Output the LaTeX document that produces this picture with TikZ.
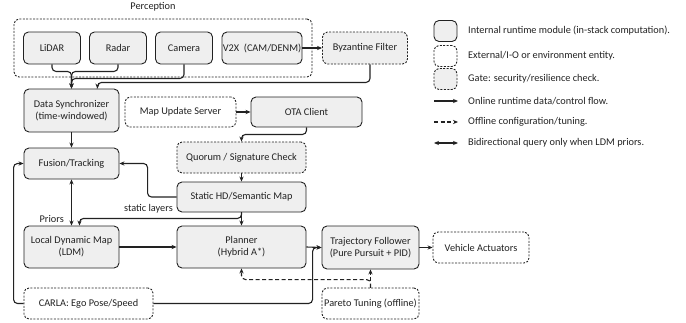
\documentclass[tikz,border=0pt]{standalone}
\usepackage{fontspec}
\setmainfont{Carlito}
\usetikzlibrary{arrows.meta,calc}
\definecolor{boxfill}{HTML}{EFEFEF}
\definecolor{ink}{HTML}{222222}
\begin{document}
\begin{tikzpicture}[x=1pt,y=-1pt,
  font=\fontsize{10.3}{12}\selectfont,
  base/.style={rounded corners=5pt, draw=ink, line width=0.9pt, inner sep=0pt, align=center, text=ink},
  mod/.style={base, fill=boxfill},
  extbox/.style={base, fill=white, dash pattern=on 2pt off 1.4pt},
  gate/.style={base, fill=boxfill, dash pattern=on 2pt off 1.4pt},
  flow/.style={draw=ink, line width=1.1pt, rounded corners=4pt, -{Stealth[length=5pt,width=4.2pt]}},
  offl/.style={flow, dash pattern=on 4pt off 2.5pt},
  bidi/.style={flow, {Stealth[length=5pt,width=4.2pt]}-{Stealth[length=5pt,width=4.2pt]}},
  lbl/.style={text=ink, inner sep=0pt}
]
\useasboundingbox (0,0) rectangle (686,322);
% perception group
\node[extbox, minimum width=298pt, minimum height=58pt] (perc) at (163,48) {};
\node[lbl] (perclbl) at (153,7) {Perception};
\node[mod, minimum width=57pt, minimum height=32pt] (lidar) at (52,48) {LiDAR};
\node[mod, minimum width=57pt, minimum height=32pt] (radar) at (118,48) {Radar};
\node[mod, minimum width=57pt, minimum height=32pt] (camera) at (184,48) {Camera};
\node[mod, minimum width=80pt, minimum height=32pt] (v2x) at (262,48) {V2X\ \ (CAM/DENM)};
\node[gate, minimum width=85pt, minimum height=32pt] (byz) at (365,48) {Byzantine Filter};
% middle
\node[mod, minimum width=95pt, minimum height=43pt] (ds) at (71.5,110.5) {Data Synchronizer\\(time-windowed)};
\node[extbox, minimum width=111pt, minimum height=30pt] (mus) at (180.5,112) {Map Update Server};
\node[mod, minimum width=111pt, minimum height=30pt] (ota) at (306.5,112) {OTA Client};
\node[gate, minimum width=129pt, minimum height=31pt] (quorum) at (241.5,157.5) {Quorum / Signature Check};
\node[mod, minimum width=129pt, minimum height=30pt] (static) at (241.5,197) {Static HD/Semantic Map};
\node[mod, minimum width=95pt, minimum height=31pt] (fusion) at (71.5,163.5) {Fusion/Tracking};
\node[mod, minimum width=95pt, minimum height=42pt] (ldm) at (71.5,247) {Local Dynamic Map\\(LDM)};
\node[mod, minimum width=129pt, minimum height=42pt] (planner) at (241.5,247) {Planner\\(Hybrid A*)};
\node[mod, minimum width=97pt, minimum height=43pt] (traj) at (370.5,247.5) {Trajectory Follower\\(Pure Pursuit + PID)};
\node[extbox, minimum width=96pt, minimum height=31pt] (va) at (481,247.5) {Vehicle Actuators};
\node[extbox, minimum width=129pt, minimum height=31pt] (carla) at (88.5,303.5) {CARLA: Ego Pose/Speed};
\node[extbox, minimum width=97pt, minimum height=31pt] (pareto) at (370.5,303.5) {Pareto Tuning (offline)};
% connectors
\draw[flow] (lidar.south) -- ++(0,7) -| (ds.north);
\draw[flow] (radar.south) -- ++(0,7) -| (ds.north);
\draw[flow] (camera.south) -- ++(0,14) -| (ds.north);
\draw[flow] ([xshift=5pt]byz.south) -- ++(0,18) -| ([xshift=26pt]ds.north);
\draw[flow] (v2x.east) -- (byz.west);
\draw[flow] (mus.east) -- (ota.west);
\draw[flow] (ota.south) -- ++(0,7) -| (quorum.north);
\draw[flow] (quorum.south) -- (static.north);
\draw[flow] (ds.south) -- (fusion.north);
\draw[flow] (static.west) -- ++(-29,0) |- (fusion.east);
\draw[bidi] (fusion.south) -- (ldm.north);
\node[lbl, anchor=east] (priorslbl) at (64,219) {Priors};
\draw[flow] (static.south) -- ++(0,6) -| ([xshift=8pt]ldm.north);
\node[lbl, anchor=east] (staticlbl) at (173,209) {static layers};
\draw[flow] (static.south) -- (planner.north);
\draw[flow] (ldm.east) -- (planner.west);
\draw[flow] (planner.east) -- (traj.west);
\draw[flow] (carla.east) -| ([xshift=-9pt]traj.west) -- (traj.west);
\draw[flow] (carla.west) -- ++(-10,0) |- (fusion.west);
\draw[flow] (traj.east) -- (va.west);
\draw[offl] (pareto.north) -- (traj.south);
\draw[offl] (pareto.north) -- ++(0,-8) -| (planner.south);
% legend
\node[mod, minimum width=23pt, minimum height=21pt] (lg1) at (445.5,31) {};
\node[lbl, anchor=west] (lt1) at (468,31) {Internal runtime module (in-stack computation).};
\node[extbox, minimum width=23pt, minimum height=21pt] (lg2) at (445.5,56) {};
\node[lbl, anchor=west] (lt2) at (468,56) {External/I-O or environment entity.};
\node[gate, minimum width=23pt, minimum height=21pt] (lg3) at (445.5,79) {};
\node[lbl, anchor=west] (lt3) at (468,79) {Gate: security/resilience check.};
\coordinate (la1) at (434,101);
\coordinate (lb1) at (458,101);
\draw[flow] (la1) -- (lb1);
\node[lbl, anchor=west] (lt4) at (468,101) {Online runtime data/control flow.};
\coordinate (la2) at (434,122);
\coordinate (lb2) at (458,122);
\draw[offl] (la2) -- (lb2);
\node[lbl, anchor=west] (lt5) at (468,122) {Offline configuration/tuning.};
\coordinate (la3) at (434,143);
\coordinate (lb3) at (458,143);
\draw[bidi] (la3) -- (lb3);
\node[lbl, anchor=west] (lt6) at (468,143) {Bidirectional query only when LDM priors.};
\end{tikzpicture}
\end{document}
